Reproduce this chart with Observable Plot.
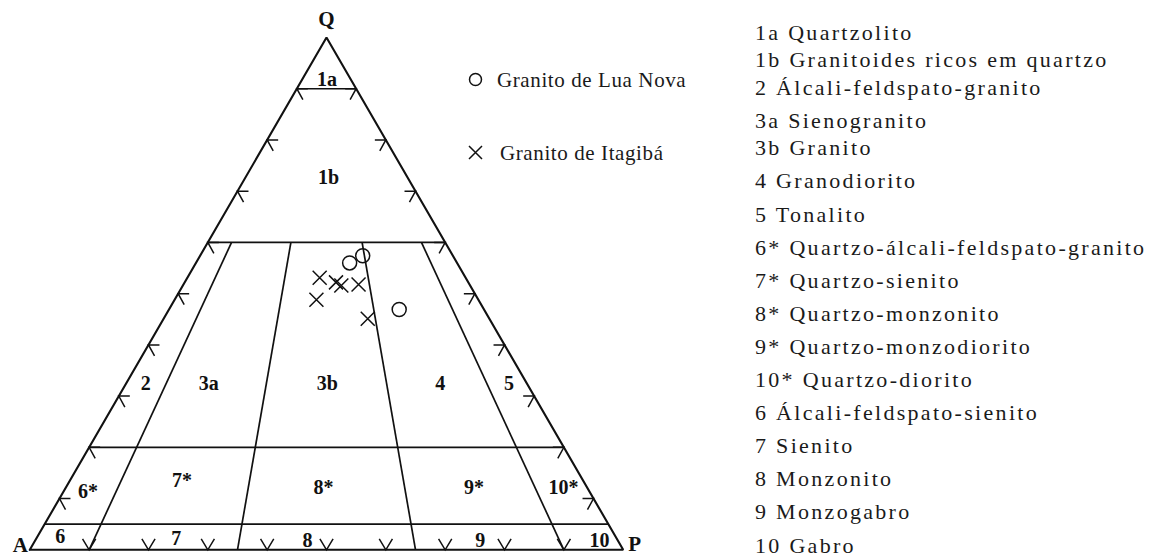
<!DOCTYPE html>
<html>
<head>
<meta charset="utf-8">
<script src="https://cdn.jsdelivr.net/npm/d3@7"></script>
<script src="https://cdn.jsdelivr.net/npm/@observablehq/plot@0.6"></script>
<style>
  body { margin: 0; background: #fff; }
  #wrap { position: relative; width: 1159px; height: 559px; overflow: hidden; }
  .serif { font-family: "Liberation Serif", "Times New Roman", serif; color: #1a1a1a; white-space: nowrap; }
  #classes { position: absolute; left: 755px; top: 15.5px; font-size: 22px; line-height: 33.1px; letter-spacing: 2.3px; }
  #classes .tight { margin-top: -5.5px; }
  .key { position: absolute; font-size: 21px; letter-spacing: 0.6px; line-height: 24px; transform: translateY(-50%); }
</style>
</head>
<body>
<div id="wrap"></div>
<script>
// Modal compositions (Q + A + P = 100) of the analysed samples
const luaNovaQ = [56.0, 57.4, 46.9];
const luaNovaA = [18.1, 15.2, 14.3];
const luaNovaP = [25.9, 27.4, 38.8];

const itagibaQ = [53.1, 52.2, 51.6, 51.8, 48.8, 45.1];
const itagibaA = [24.6, 22.3, 21.7, 18.7, 27.3, 20.5];
const itagibaP = [22.3, 25.5, 26.7, 29.5, 23.9, 34.4];

// Streckeisen QAP field boundaries
const quartzLevels = [90, 60, 20, 5];          // Q %
const ratioLevels = [10, 35, 65, 90];          // 100·P/(A+P)
const ratioTop = 60;                           // ratio lines run from Q = 60 down to the A–P side
const edgeTicks = [10, 20, 30, 40, 50, 60, 70, 80, 90];

// Field names and where they are written (Q %, P %)
const fieldText = ["1a", "1b", "2", "3a", "3b", "4", "5", "6*", "7*", "8*", "9*", "10*", "6", "7", "8", "9", "10"];
const fieldQ = [91.8, 72.7, 32.5, 32.5, 32.5, 32.5, 32.5, 11.4, 13.5, 12.2, 12.1, 12.1, 2.5, 2.2, 1.8, 1.8, 1.8];
const fieldP = [4.2, 14.0, 3.3, 13.9, 33.9, 52.9, 64.5, 4.1, 18.9, 43.4, 68.8, 83.9, 3.9, 23.6, 45.9, 75.0, 95.1];

// Rock names of the numbered fields
const classCode = ["1a", "1b", "2", "3a", "3b", "4", "5", "6*", "7*", "8*", "9*", "10*", "6", "7", "8", "9", "10"];
const className = [
  "Quartzolito", "Granitoides ricos em quartzo", "Álcali-feldspato-granito",
  "Sienogranito", "Granito", "Granodiorito", "Tonalito",
  "Quartzo-álcali-feldspato-granito", "Quartzo-sienito", "Quartzo-monzonito",
  "Quartzo-monzodiorito", "Quartzo-diorito", "Álcali-feldspato-sienito",
  "Sienito", "Monzonito", "Monzogabro", "Gabro"
];
// rows set closer to the one above them in the list
const tightRows = ["1b", "2", "3b"];

const seriesName = ["Granito de Lua Nova", "Granito de Itagibá"];

// ternary (Q, P in %) -> plane coordinates, A at the origin, P at x = 1, Q at y = 1
const tx = (q, p) => (p + q / 2) / 100;
const ty = (q) => q / 100;

const outline = [[0, 0], [100, 0], [0, 100], [0, 0]].map(([q, p]) => ({x: tx(q, p), y: ty(q)}));

const hLines = quartzLevels.map(q => ({x1: tx(q, 0), y1: ty(q), x2: tx(q, 100 - q), y2: ty(q)}));
const rLines = ratioLevels.map(r => ({
  x1: tx(ratioTop, r * (100 - ratioTop) / 100), y1: ty(ratioTop),
  x2: tx(0, r), y2: ty(0)
}));

const leftTicks = edgeTicks.map(q => ({x: tx(q, 0), y: ty(q)}));
const rightTicks = edgeTicks.map(q => ({x: tx(q, 100 - q), y: ty(q)}));
const baseTicks = edgeTicks.map(p => ({x: tx(0, p), y: 0}));

const fields = fieldText.map((t, i) => ({t, x: tx(fieldQ[i], fieldP[i]), y: ty(fieldQ[i])}));
const luaNova = luaNovaQ.map((q, i) => ({x: tx(q, luaNovaP[i]), y: ty(q), a: luaNovaA[i]}));
const itagiba = itagibaQ.map((q, i) => ({x: tx(q, itagibaP[i]), y: ty(q), a: itagibaA[i]}));

// small boundary markers drawn as custom symbols (size = π r²)
const len = (size) => Math.sqrt(size / Math.PI);
const tickLeft = {draw(c, s) { const l = len(s); c.moveTo(l, 0); c.lineTo(0, 0); c.lineTo(0.55 * l, l); }};
const tickRight = {draw(c, s) { const l = len(s); c.moveTo(-l, 0); c.lineTo(0, 0); c.lineTo(-0.55 * l, l); }};
const tickBase = {draw(c, s) { const l = len(s); c.moveTo(-0.6 * l, -l); c.lineTo(0, 0); c.lineTo(0.6 * l, -l); }};
const cross = {draw(c, s) { const l = len(s); c.moveTo(-l, -l); c.lineTo(l, l); c.moveTo(l, -l); c.lineTo(-l, l); }};

const ink = "#111";
const serif = "Liberation Serif, Times New Roman, serif";

const chart = Plot.plot({
  width: 1159,
  height: 559,
  margin: 0,
  style: {background: "#fff", overflow: "visible"},
  x: {domain: [0, 1], range: [29.3, 622.7], axis: null},
  y: {domain: [0, 1], range: [549.3, 37], axis: null},
  marks: [
    Plot.link(hLines, {x1: "x1", y1: "y1", x2: "x2", y2: "y2", stroke: ink, strokeWidth: 1.7}),
    Plot.link(rLines, {x1: "x1", y1: "y1", x2: "x2", y2: "y2", stroke: ink, strokeWidth: 1.7}),
    Plot.line(outline, {x: "x", y: "y", stroke: ink, strokeWidth: 2.1, strokeLinejoin: "miter"}),
    Plot.dot(leftTicks, {x: "x", y: "y", symbol: tickLeft, r: 11, fill: "none", stroke: ink, strokeWidth: 1.5}),
    Plot.dot(rightTicks, {x: "x", y: "y", symbol: tickRight, r: 11, fill: "none", stroke: ink, strokeWidth: 1.5}),
    Plot.dot(baseTicks, {x: "x", y: "y", symbol: tickBase, r: 11, fill: "none", stroke: ink, strokeWidth: 1.5}),
    Plot.text(fields, {x: "x", y: "y", text: "t", fontFamily: serif, fontWeight: "bold", fontSize: 20, fill: ink}),
    Plot.text(["Q"], {x: 0.5, y: 1, dy: -18, fontFamily: serif, fontWeight: "bold", fontSize: 21, fill: ink}),
    Plot.text(["A"], {x: 0, y: 0, dx: -2, dy: -5, textAnchor: "end", fontFamily: serif, fontWeight: "bold", fontSize: 21, fill: ink}),
    Plot.text(["P"], {x: 1, y: 0, dx: 5, dy: -6, textAnchor: "start", fontFamily: serif, fontWeight: "bold", fontSize: 21, fill: ink}),
    Plot.dot(luaNova, {x: "x", y: "y", r: 7, symbol: "circle", fill: "none", stroke: ink, strokeWidth: 1.5}),
    Plot.dot(itagiba, {x: "x", y: "y", r: 7, symbol: cross, fill: "none", stroke: ink, strokeWidth: 1.5}),
    // symbol key
    Plot.dot([seriesName[0]], {frameAnchor: "top-left", dx: 475, dy: 79, r: 6, symbol: "circle", fill: "none", stroke: ink, strokeWidth: 1.5}),
    Plot.dot([seriesName[1]], {frameAnchor: "top-left", dx: 475, dy: 152, r: 6.5, symbol: cross, fill: "none", stroke: ink, strokeWidth: 1.5})
  ]
});

const wrap = document.getElementById("wrap");
wrap.appendChild(chart);

// symbol key labels
[[seriesName[0], 497, 80], [seriesName[1], 500, 153]].forEach(([t, left, top]) => {
  const d = document.createElement("div");
  d.className = "key serif";
  d.style.left = left + "px";
  d.style.top = top + "px";
  d.textContent = t;
  wrap.appendChild(d);
});

// list of field names
const list = document.createElement("div");
list.id = "classes";
list.className = "serif";
classCode.forEach((c, i) => {
  const row = document.createElement("div");
  if (tightRows.includes(c)) row.className = "tight";
  row.textContent = c + " " + className[i];
  list.appendChild(row);
});
wrap.appendChild(list);
</script>
</body>
</html>
